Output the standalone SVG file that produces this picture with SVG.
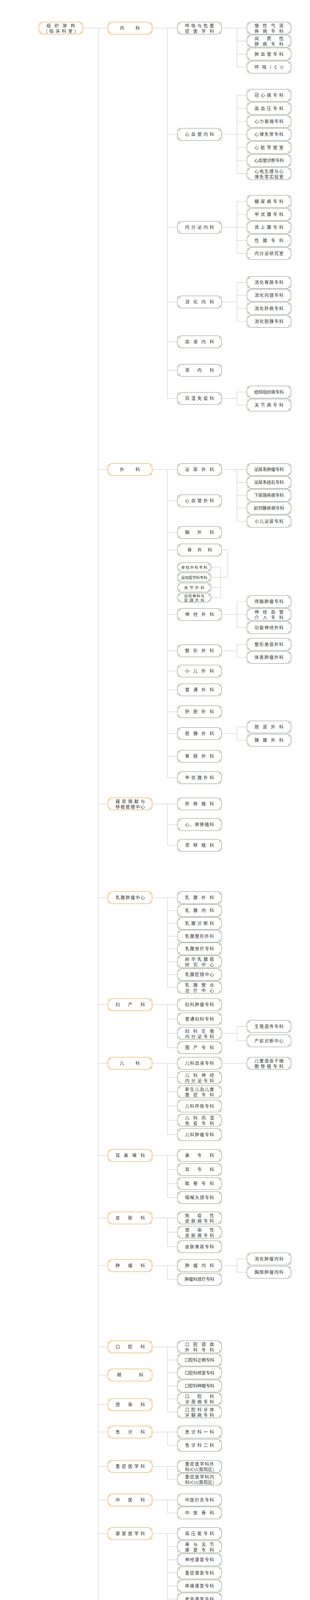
<svg xmlns="http://www.w3.org/2000/svg" width="794" height="6738" viewBox="0 0 794 6738">
<style>
.t{font-family:"Noto Sans CJK SC","Noto Sans CJK JP",sans-serif;font-size:11px;fill:#333}
.ts{font-size:9.5px}
.c{fill:none;stroke:#c6c6c6;stroke-width:1}
.go{stroke:#DFA43A}
.gr{stroke:#869780}
</style>
<defs>
<g id="cn" fill="none"><circle cx="4.2" cy="4.2" r="2.3"/><path d="M4.2,4.2h1.1M0.5,12V7.6H2.8M7.6,0.5V2.8M7.6,0.5H12"/></g>
<g id="fb" stroke-width="1"><rect x="1" y="1" width="112" height="30" fill="#fff" stroke="none"/><path fill="none" d="M12,0.5H102M113.5,12V20M102,31.5H12M0.5,20V12"/><use href="#cn"/><use href="#cn" transform="matrix(-1 0 0 1 114 0)"/><use href="#cn" transform="matrix(1 0 0 -1 0 32)"/><use href="#cn" transform="matrix(-1 0 0 -1 114 32)"/></g>
<g id="fs" stroke-width="1"><rect x="1" y="1" width="85" height="22" fill="#fff" stroke="none"/><path fill="none" d="M12,0.5H75M75,23.5H12"/><use href="#cn"/><use href="#cn" transform="matrix(-1 0 0 1 87 0)"/><use href="#cn" transform="matrix(1 0 0 -1 0 24)"/><use href="#cn" transform="matrix(-1 0 0 -1 87 24)"/></g>
</defs>
<rect width="794" height="6738" fill="#fff"/>
<g id="connectors">
<path class="c" d="M213,72H276M252,72V4843M252,1202H276M252,2058H276M252,2298H276M252,2572H276M252,2722H276M252,2958H276M252,3118H276M252,3240H276M252,3448H276M252,3520H276M252,3596H276M252,3666H276M252,3754H276M252,3840H276M252,3926H276M252,4180H276M252,4610H276M252,4667H276M252,4724H276M252,4782H276M252,4843H276"/>
<path class="c" d="M390,72H454M429,72V1020M429,344H454M429,582H454M429,773H454M429,875H454M429,948H454M429,1020H454"/>
<path class="c" d="M568,72H632M607,72V172M607,105H632M607,138.5H632M607,172H632"/>
<path class="c" d="M568,344H632M607,244V444.5M607,244H632M607,277.5H632M607,311H632M607,377.5H632M607,411H632M607,444.5H632"/>
<path class="c" d="M568,582H632M607,515.5V649M607,515.5H632M607,549H632M607,615.5H632M607,649H632"/>
<path class="c" d="M568,773H607M607,723V823M607,723H632M607,756H632M607,789.5H632M607,823H632"/>
<path class="c" d="M568,1020H607M607,1003.5V1037M607,1003.5H632M607,1037H632"/>
<path class="c" d="M390,1202H454M429,1202V1991M429,1282H454M429,1363H454M429,1408H454M429,1573H454M429,1666H454M429,1718H454M429,1766H454M429,1822H454M429,1878H454M429,1936H454M429,1991H454"/>
<path class="c" d="M568,1202H632M607,1202V1334.5M607,1235H632M607,1268H632M607,1301H632M607,1334.5H632"/>
<path class="c" d="M568,1408H583V1478H541M565,1452V1530M541,1452H565M541,1504H565M541,1530H565"/>
<path class="c" d="M568,1573H632M607,1540V1606.5M607,1540H632M607,1606.5H632"/>
<path class="c" d="M568,1666H607M607,1649.5V1683M607,1649.5H632M607,1683H632"/>
<path class="c" d="M568,1878H607M607,1861V1895M607,1861H632M607,1895H632"/>
<path class="c" d="M390,2058H454M429,2058V2164M429,2111H454M429,2164H454"/>
<path class="c" d="M390,2298H454M429,2298V2527.5M429,2331H454M429,2364H454M429,2396.5H454M429,2429H454M429,2462H454M429,2495H454M429,2527.5H454"/>
<path class="c" d="M390,2572H454M429,2572V2682M429,2608.5H454M429,2645.5H454M429,2682H454"/>
<path class="c" d="M568,2645.5H607M607,2627.5V2664.5M607,2627.5H632M607,2664.5H632"/>
<path class="c" d="M390,2722H454M429,2722V2904.5M429,2758.5H454M429,2795H454M429,2831.5H454M429,2868H454M429,2904.5H454M568,2722H632"/>
<path class="c" d="M390,2958H454M429,2958V3066M429,2994H454M429,3030H454M429,3066H454"/>
<path class="c" d="M390,3118H454M429,3118V3191.5M429,3154.5H454M429,3191.5H454"/>
<path class="c" d="M390,3240H454M429,3240V3275M429,3275H454M568,3240H607M607,3223V3257M607,3223H632M607,3257H632"/>
<path class="c" d="M390,3448H454M429,3448V3614.5M429,3481.5H454M429,3514.5H454M429,3548H454M429,3581H454M429,3614.5H454"/>
<path class="c" d="M390,3666H454M429,3666V3700M429,3700H454M390,3754H454M429,3754V3787M429,3787H454M390,3840H454M429,3840V3873M429,3873H454"/>
<path class="c" d="M390,3926H454M429,3926V4127M429,3959.5H454M429,3993H454M429,4026.5H454M429,4060H454M429,4093.5H454M429,4127H454"/>
<path class="c" d="M390,4180H454M429,4180V4284.5M429,4214H454M429,4247.5H454M429,4284.5H454"/>
<path class="c" d="M390,4610H454M429,4610V4844M429,4643.5H454M429,4676.5H454M429,4710H454M429,4743.5H454M429,4777H454M429,4810.5H454M429,4844H454"/>
<path class="c" d="M213,5687H276M252,5687V6387M252,5765H276M252,5842.5H276M252,5920.5H276M252,5998H276M252,6076H276M252,6154H276M252,6231.5H276M252,6309.5H276M252,6387H276"/>
<path class="c" d="M390,5687H454M429,5687V5722M429,5722H454M390,5998H454M429,5998V6032.5M429,6032.5H454M390,6231.5H454M429,6198V6265M429,6198H454M429,6265H454M390,6387H454"/>
</g>
<g id="nodes-clinical">
<g id="root1"><use href="#fb" class="go" x="99" y="56"/><text class="t" x="119" y="70" textLength="73">组织架构</text><text class="t" x="117.5" y="84" textLength="77">(临床科室)</text></g>
<g id="n-neike"><use href="#fb" class="go" x="276" y="56"/><text class="t" x="307" y="76" textLength="51">内科</text></g>
<g id="n-waike"><use href="#fb" class="go" x="276" y="1186"/><text class="t" x="307" y="1206" textLength="51">外科</text></g>
<g id="n-qiguan"><use href="#fb" class="go" x="276" y="2042"/><text class="t" x="296" y="2056" textLength="75">器官捐献与</text><text class="t" x="296" y="2070" textLength="75">移植管理中心</text></g>
<g id="n-ruxian"><use href="#fb" class="go" x="276" y="2282"/><text class="t" x="296" y="2302" textLength="75">乳腺肿瘤中心</text></g>
<g id="n-fuchan"><use href="#fb" class="go" x="276" y="2556"/><text class="t" x="296" y="2576" textLength="75">妇产科</text></g>
<g id="n-erke"><use href="#fb" class="go" x="276" y="2706"/><text class="t" x="307" y="2726" textLength="51">儿科</text></g>
<g id="n-ebh"><use href="#fb" class="go" x="276" y="2942"/><text class="t" x="296" y="2962" textLength="75">耳鼻喉科</text></g>
<g id="n-pifu"><use href="#fb" class="go" x="276" y="3102"/><text class="t" x="296" y="3122" textLength="75">皮肤科</text></g>
<g id="n-zhongliu"><use href="#fb" class="go" x="276" y="3224"/><text class="t" x="296" y="3244" textLength="75">肿瘤科</text></g>
<g id="n-kouqiang"><use href="#fb" class="go" x="276" y="3432"/><text class="t" x="296" y="3452" textLength="75">口腔科</text></g>
<g id="n-yanke"><use href="#fb" class="go" x="276" y="3504"/><text class="t" x="300" y="3524" textLength="67">眼科</text></g>
<g id="n-ganran"><use href="#fb" class="go" x="276" y="3580"/><text class="t" x="296" y="3600" textLength="75">感染科</text></g>
<g id="n-jizhen"><use href="#fb" class="go" x="276" y="3650"/><text class="t" x="296" y="3670" textLength="75">急诊科</text></g>
<g id="n-zhongzheng"><use href="#fb" class="go" x="276" y="3738"/><text class="t" x="296" y="3758" textLength="75">重症医学科</text></g>
<g id="n-zhongyi"><use href="#fb" class="go" x="276" y="3824"/><text class="t" x="296" y="3844" textLength="75">中医科</text></g>
<g id="n-kangfu"><use href="#fb" class="go" x="276" y="3910"/><text class="t" x="296" y="3930" textLength="75">康复医学科</text></g>
<g id="n-shenjing"><use href="#fb" class="go" x="276" y="4164"/><text class="t" x="296" y="4184" textLength="75">神经科</text></g>
<g id="n-mazui"><use href="#fb" class="go" x="276" y="4594"/><text class="t" x="296" y="4614" textLength="75">麻醉科</text></g>
<g id="n-quanke1"><use href="#fb" class="go" x="276" y="4651"/><text class="t" x="294" y="4671" textLength="78">全科医学科一科</text></g>
<g id="n-quanke2"><use href="#fb" class="go" x="276" y="4708"/><text class="t" x="294" y="4728" textLength="78">全科医学科二科</text></g>
<g id="n-quanke3"><use href="#fb" class="go" x="276" y="4766"/><text class="t" x="294" y="4786" textLength="78">全科医学科三科</text></g>
<g id="n-jiankang"><use href="#fb" class="go" x="276" y="4827"/><text class="t" x="287" y="4847" textLength="95">健康管理中心</text></g>

<g id="a1"><use href="#fb" class="gr" x="454" y="56"/><text class="t" x="474" y="70" textLength="74">呼吸与危重</text><text class="t" x="474" y="84" textLength="74">症医学科</text></g>
<g id="a2"><use href="#fb" class="gr" x="454" y="328"/><text class="t" x="474" y="348" textLength="74">心血管内科</text></g>
<g id="a3"><use href="#fb" class="gr" x="454" y="566"/><text class="t" x="474" y="586" textLength="74">内分泌内科</text></g>
<g id="a4"><use href="#fb" class="gr" x="454" y="757"/><text class="t" x="474" y="777" textLength="74">消化内科</text></g>
<g id="a5"><use href="#fb" class="gr" x="454" y="859"/><text class="t" x="474" y="879" textLength="74">血液内科</text></g>
<g id="a6"><use href="#fb" class="gr" x="454" y="932"/><text class="t" x="474" y="952" textLength="74">肾内科</text></g>
<g id="a7"><use href="#fb" class="gr" x="454" y="1004"/><text class="t" x="474" y="1024" textLength="74">风湿免疫科</text></g>

<g id="a1-1"><use href="#fb" class="gr" x="632" y="56"/><text class="t" x="652" y="70" textLength="74">慢性气道</text><text class="t" x="652" y="84" textLength="74">疾病专科</text></g>
<g id="a1-2"><use href="#fb" class="gr" x="632" y="89"/><text class="t" x="652" y="103" textLength="74">间质性</text><text class="t" x="652" y="117" textLength="74">肺病专科</text></g>
<g id="a1-3"><use href="#fb" class="gr" x="632" y="122.5"/><text class="t" x="652" y="142.5" textLength="74">肺血管专科</text></g>
<g id="a1-4"><use href="#fb" class="gr" x="632" y="156"/><text class="t" x="652" y="176" textLength="74">呼吸ICU</text></g>
<g id="a2-1"><use href="#fb" class="gr" x="632" y="228"/><text class="t" x="652" y="248" textLength="74">冠心病专科</text></g>
<g id="a2-2"><use href="#fb" class="gr" x="632" y="261.5"/><text class="t" x="652" y="281.5" textLength="74">高血压专科</text></g>
<g id="a2-3"><use href="#fb" class="gr" x="632" y="295"/><text class="t" x="652" y="315" textLength="74">心力衰竭专科</text></g>
<g id="a2-4"><use href="#fb" class="gr" x="632" y="328"/><text class="t" x="652" y="348" textLength="74">心律失常专科</text></g>
<g id="a2-5"><use href="#fb" class="gr" x="632" y="361.5"/><text class="t" x="652" y="381.5" textLength="74">心脏导管室</text></g>
<g id="a2-6"><use href="#fb" class="gr" x="632" y="395"/><text class="t" x="651" y="415" textLength="76">心血管诊断专科</text></g>
<g id="a2-7"><use href="#fb" class="gr" x="632" y="428.5"/><text class="t" x="652" y="442.5" textLength="74">心电生理与心</text><text class="t" x="652" y="456.5" textLength="74">律失常实验室</text></g>
<g id="a3-1"><use href="#fb" class="gr" x="632" y="499.5"/><text class="t" x="652" y="519.5" textLength="74">糖尿病专科</text></g>
<g id="a3-2"><use href="#fb" class="gr" x="632" y="533"/><text class="t" x="652" y="553" textLength="74">甲状腺专科</text></g>
<g id="a3-3"><use href="#fb" class="gr" x="632" y="566"/><text class="t" x="652" y="586" textLength="74">肾上腺专科</text></g>
<g id="a3-4"><use href="#fb" class="gr" x="632" y="599.5"/><text class="t" x="652" y="619.5" textLength="74">性腺专科</text></g>
<g id="a3-5"><use href="#fb" class="gr" x="632" y="633"/><text class="t" x="652" y="653" textLength="74">内分泌研究室</text></g>
<g id="a4-1"><use href="#fb" class="gr" x="632" y="707"/><text class="t" x="652" y="727" textLength="74">消化胃肠专科</text></g>
<g id="a4-2"><use href="#fb" class="gr" x="632" y="740"/><text class="t" x="652" y="760" textLength="74">消化内镜专科</text></g>
<g id="a4-3"><use href="#fb" class="gr" x="632" y="773.5"/><text class="t" x="652" y="793.5" textLength="74">消化肝病专科</text></g>
<g id="a4-4"><use href="#fb" class="gr" x="632" y="807"/><text class="t" x="652" y="827" textLength="74">消化胆胰专科</text></g>
<g id="a7-1"><use href="#fb" class="gr" x="632" y="987.5"/><text class="t" x="651" y="1007.5" textLength="76">结缔组织病专科</text></g>
<g id="a7-2"><use href="#fb" class="gr" x="632" y="1021"/><text class="t" x="652" y="1041" textLength="74">关节病专科</text></g>

<g id="b1"><use href="#fb" class="gr" x="454" y="1186"/><text class="t" x="474" y="1206" textLength="74">泌尿外科</text></g>
<g id="b2"><use href="#fb" class="gr" x="454" y="1266"/><text class="t" x="474" y="1286" textLength="74">心血管外科</text></g>
<g id="b3"><use href="#fb" class="gr" x="454" y="1347"/><text class="t" x="474" y="1367" textLength="74">胸外科</text></g>
<g id="b4"><use href="#fb" class="gr" x="454" y="1392"/><text class="t" x="480" y="1412" textLength="63">骨外科</text></g>
<g id="b4-1"><use href="#fs" class="gr" x="454" y="1440"/><text class="t ts" x="464" y="1455.6" textLength="67">脊柱外科专科</text></g>
<g id="b4-2"><use href="#fs" class="gr" x="454" y="1466"/><text class="t ts" x="464" y="1481.6" textLength="67">运动医学科专科</text></g>
<g id="b4-3"><use href="#fs" class="gr" x="454" y="1492"/><text class="t ts" x="471.5" y="1507.6" textLength="52">关节外科</text></g>
<g id="b4-4"><use href="#fs" class="gr" x="454" y="1518"/><text class="t ts" x="471.5" y="1529.1" textLength="52">创伤骨科与</text><text class="t ts" x="471.5" y="1539.8" textLength="52">足踝外科</text></g>
<g id="b5"><use href="#fb" class="gr" x="454" y="1557"/><text class="t" x="474" y="1577" textLength="74">神经外科</text></g>
<g id="b6"><use href="#fb" class="gr" x="454" y="1650"/><text class="t" x="474" y="1670" textLength="74">整形外科</text></g>
<g id="b7"><use href="#fb" class="gr" x="454" y="1702"/><text class="t" x="474" y="1722" textLength="74">小儿外科</text></g>
<g id="b8"><use href="#fb" class="gr" x="454" y="1750"/><text class="t" x="474" y="1770" textLength="74">普通外科</text></g>
<g id="b9"><use href="#fb" class="gr" x="454" y="1806"/><text class="t" x="474" y="1826" textLength="74">肝胆外科</text></g>
<g id="b10"><use href="#fb" class="gr" x="454" y="1862"/><text class="t" x="474" y="1882" textLength="74">胆胰外科</text></g>
<g id="b11"><use href="#fb" class="gr" x="454" y="1920"/><text class="t" x="474" y="1940" textLength="74">胃肠外科</text></g>
<g id="b12"><use href="#fb" class="gr" x="454" y="1975"/><text class="t" x="474" y="1995" textLength="74">甲状腺外科</text></g>
<g id="b1-1"><use href="#fb" class="gr" x="632" y="1186"/><text class="t" x="651" y="1206" textLength="76">泌尿系肿瘤专科</text></g>
<g id="b1-2"><use href="#fb" class="gr" x="632" y="1219"/><text class="t" x="651" y="1239" textLength="76">泌尿系结石专科</text></g>
<g id="b1-3"><use href="#fb" class="gr" x="632" y="1252"/><text class="t" x="651" y="1272" textLength="76">下尿路疾病专科</text></g>
<g id="b1-4"><use href="#fb" class="gr" x="632" y="1285"/><text class="t" x="650" y="1305" textLength="78">前列腺疾病专科</text></g>
<g id="b1-5"><use href="#fb" class="gr" x="632" y="1318.5"/><text class="t" x="652" y="1338.5" textLength="74">小儿泌尿专科</text></g>
<g id="b5-1"><use href="#fb" class="gr" x="632" y="1524"/><text class="t" x="652" y="1544" textLength="74">颅脑肿瘤专科</text></g>
<g id="b5-2"><use href="#fb" class="gr" x="632" y="1557"/><text class="t" x="652" y="1571" textLength="74">神经血管</text><text class="t" x="652" y="1585" textLength="74">介入专科</text></g>
<g id="b5-3"><use href="#fb" class="gr" x="632" y="1590.5"/><text class="t" x="652" y="1610.5" textLength="74">功能神经外科</text></g>
<g id="b6-1"><use href="#fb" class="gr" x="632" y="1633.5"/><text class="t" x="652" y="1653.5" textLength="74">整形美容外科</text></g>
<g id="b6-2"><use href="#fb" class="gr" x="632" y="1667"/><text class="t" x="652" y="1687" textLength="74">体表肿瘤外科</text></g>
<g id="b10-1"><use href="#fb" class="gr" x="632" y="1845"/><text class="t" x="652" y="1865" textLength="74">胆道外科</text></g>
<g id="b10-2"><use href="#fb" class="gr" x="632" y="1879"/><text class="t" x="652" y="1899" textLength="74">胰腺外科</text></g>

<g id="c1"><use href="#fb" class="gr" x="454" y="2042"/><text class="t" x="474" y="2062" textLength="74">肝移植科</text></g>
<g id="c2"><use href="#fb" class="gr" x="454" y="2095"/><text class="t" x="474" y="2115" textLength="74">心、肺移植科</text></g>
<g id="c3"><use href="#fb" class="gr" x="454" y="2148"/><text class="t" x="474" y="2168" textLength="74">肾移植科</text></g>

<g id="d1"><use href="#fb" class="gr" x="454" y="2282"/><text class="t" x="474" y="2302" textLength="74">乳腺外科</text></g>
<g id="d2"><use href="#fb" class="gr" x="454" y="2315"/><text class="t" x="474" y="2335" textLength="74">乳腺内科</text></g>
<g id="d3"><use href="#fb" class="gr" x="454" y="2348"/><text class="t" x="474" y="2368" textLength="74">乳腺诊断科</text></g>
<g id="d4"><use href="#fb" class="gr" x="454" y="2380.5"/><text class="t" x="474" y="2400.5" textLength="74">乳腺整形外科</text></g>
<g id="d5"><use href="#fb" class="gr" x="454" y="2413"/><text class="t" x="474" y="2433" textLength="74">乳腺放疗专科</text></g>
<g id="d6"><use href="#fb" class="gr" x="454" y="2446"/><text class="t" x="474" y="2460" textLength="74">树华乳腺癌</text><text class="t" x="474" y="2474" textLength="74">研究中心</text></g>
<g id="d7"><use href="#fb" class="gr" x="454" y="2479"/><text class="t" x="474" y="2499" textLength="74">乳腺腔镜中心</text></g>
<g id="d8"><use href="#fb" class="gr" x="454" y="2511.5"/><text class="t" x="474" y="2525.5" textLength="74">乳腺整合</text><text class="t" x="474" y="2539.5" textLength="74">治疗中心</text></g>

<g id="e1"><use href="#fb" class="gr" x="454" y="2556"/><text class="t" x="474" y="2576" textLength="74">妇科肿瘤专科</text></g>
<g id="e2"><use href="#fb" class="gr" x="454" y="2592.5"/><text class="t" x="474" y="2612.5" textLength="74">普通妇科专科</text></g>
<g id="e3"><use href="#fb" class="gr" x="454" y="2629.5"/><text class="t" x="474" y="2643.5" textLength="74">妇科生殖</text><text class="t" x="474" y="2657.5" textLength="74">内分泌专科</text></g>
<g id="e4"><use href="#fb" class="gr" x="454" y="2666"/><text class="t" x="474" y="2686" textLength="74">围产专科</text></g>
<g id="e3-1"><use href="#fb" class="gr" x="632" y="2611.5"/><text class="t" x="652" y="2631.5" textLength="74">生殖遗传专科</text></g>
<g id="e3-2"><use href="#fb" class="gr" x="632" y="2648.5"/><text class="t" x="652" y="2668.5" textLength="74">产前诊断中心</text></g>

<g id="f1"><use href="#fb" class="gr" x="454" y="2706"/><text class="t" x="474" y="2726" textLength="74">儿科血液专科</text></g>
<g id="f2"><use href="#fb" class="gr" x="454" y="2742.5"/><text class="t" x="474" y="2756.5" textLength="74">儿科神经</text><text class="t" x="474" y="2770.5" textLength="74">内分泌专科</text></g>
<g id="f3"><use href="#fb" class="gr" x="454" y="2779"/><text class="t" x="474" y="2793" textLength="74">新生儿及儿童</text><text class="t" x="474" y="2807" textLength="74">重症专科</text></g>
<g id="f4"><use href="#fb" class="gr" x="454" y="2815.5"/><text class="t" x="474" y="2835.5" textLength="74">儿科呼吸专科</text></g>
<g id="f5"><use href="#fb" class="gr" x="454" y="2852"/><text class="t" x="474" y="2866" textLength="74">儿科风湿</text><text class="t" x="474" y="2880" textLength="74">免疫专科</text></g>
<g id="f6"><use href="#fb" class="gr" x="454" y="2888.5"/><text class="t" x="474" y="2908.5" textLength="74">儿科肿瘤专科</text></g>
<g id="f1-1"><use href="#fb" class="gr" x="632" y="2706"/><text class="t" x="652" y="2720" textLength="74">儿童造血干细</text><text class="t" x="652" y="2734" textLength="74">胞移植专科</text></g>

<g id="g1"><use href="#fb" class="gr" x="454" y="2942"/><text class="t" x="474" y="2962" textLength="74">鼻专科</text></g>
<g id="g2"><use href="#fb" class="gr" x="454" y="2978"/><text class="t" x="474" y="2998" textLength="74">耳专科</text></g>
<g id="g3"><use href="#fb" class="gr" x="454" y="3014"/><text class="t" x="474" y="3034" textLength="74">眩晕专科</text></g>
<g id="g4"><use href="#fb" class="gr" x="454" y="3050"/><text class="t" x="474" y="3070" textLength="74">咽喉头颈专科</text></g>

<g id="h1"><use href="#fb" class="gr" x="454" y="3102"/><text class="t" x="474" y="3116" textLength="74">免疫性</text><text class="t" x="474" y="3130" textLength="74">皮肤病专科</text></g>
<g id="h2"><use href="#fb" class="gr" x="454" y="3138.5"/><text class="t" x="474" y="3152.5" textLength="74">感染性</text><text class="t" x="474" y="3166.5" textLength="74">皮肤病专科</text></g>
<g id="h3"><use href="#fb" class="gr" x="454" y="3175.5"/><text class="t" x="474" y="3195.5" textLength="74">皮肤美容专科</text></g>

<g id="i1"><use href="#fb" class="gr" x="454" y="3224"/><text class="t" x="474" y="3244" textLength="74">肿瘤内科</text></g>
<g id="i2"><use href="#fb" class="gr" x="454" y="3259"/><text class="t" x="473" y="3279" textLength="76">肿瘤科放疗专科</text></g>
<g id="i1-1"><use href="#fb" class="gr" x="632" y="3207"/><text class="t" x="652" y="3227" textLength="74">消化肿瘤内科</text></g>
<g id="i1-2"><use href="#fb" class="gr" x="632" y="3241"/><text class="t" x="652" y="3261" textLength="74">胸部肿瘤内科</text></g>

<g id="j1"><use href="#fb" class="gr" x="454" y="3432"/><text class="t" x="474" y="3446" textLength="74">口腔颌面</text><text class="t" x="474" y="3460" textLength="74">外科专科</text></g>
<g id="j2"><use href="#fb" class="gr" x="454" y="3465.5"/><text class="t" x="473" y="3485.5" textLength="76">口腔科正畸专科</text></g>
<g id="j3"><use href="#fb" class="gr" x="454" y="3498.5"/><text class="t" x="473" y="3518.5" textLength="76">口腔科修复专科</text></g>
<g id="j4"><use href="#fb" class="gr" x="454" y="3532"/><text class="t" x="473" y="3552" textLength="76">口腔科种植专科</text></g>
<g id="j5"><use href="#fb" class="gr" x="454" y="3565"/><text class="t" x="474" y="3579" textLength="74">口腔科</text><text class="t" x="474" y="3593" textLength="74">牙周病专科</text></g>
<g id="j6"><use href="#fb" class="gr" x="454" y="3598.5"/><text class="t" x="474" y="3612.5" textLength="74">口腔科牙体</text><text class="t" x="474" y="3626.5" textLength="74">牙髓病专科</text></g>

<g id="m1"><use href="#fb" class="gr" x="454" y="3650"/><text class="t" x="474" y="3670" textLength="74">急诊科一科</text></g>
<g id="m2"><use href="#fb" class="gr" x="454" y="3684"/><text class="t" x="474" y="3704" textLength="74">急诊科二科</text></g>
<g id="n1"><use href="#fb" class="gr" x="454" y="3738"/><text class="t" x="474" y="3752" textLength="74">重症医学科外</text><text class="t" x="474" y="3766" textLength="74">科ICU(南院区)</text></g>
<g id="n2"><use href="#fb" class="gr" x="454" y="3771"/><text class="t" x="474" y="3785" textLength="74">重症医学科内</text><text class="t" x="474" y="3799" textLength="74">科ICU(南院区)</text></g>
<g id="o1"><use href="#fb" class="gr" x="454" y="3824"/><text class="t" x="474" y="3844" textLength="74">中医针灸专科</text></g>
<g id="o2"><use href="#fb" class="gr" x="454" y="3857"/><text class="t" x="474" y="3877" textLength="74">中医骨科</text></g>

<g id="p1"><use href="#fb" class="gr" x="454" y="3910"/><text class="t" x="474" y="3930" textLength="74">高压氧专科</text></g>
<g id="p2"><use href="#fb" class="gr" x="454" y="3943.5"/><text class="t" x="474" y="3957.5" textLength="74">骨与关节</text><text class="t" x="474" y="3971.5" textLength="74">康复专科</text></g>
<g id="p3"><use href="#fb" class="gr" x="454" y="3977"/><text class="t" x="474" y="3997" textLength="74">神经康复专科</text></g>
<g id="p4"><use href="#fb" class="gr" x="454" y="4010.5"/><text class="t" x="474" y="4030.5" textLength="74">重症康复专科</text></g>
<g id="p5"><use href="#fb" class="gr" x="454" y="4044"/><text class="t" x="474" y="4064" textLength="74">疼痛康复专科</text></g>
<g id="p6"><use href="#fb" class="gr" x="454" y="4077.5"/><text class="t" x="474" y="4097.5" textLength="74">老年康复专科</text></g>
<g id="p7"><use href="#fb" class="gr" x="454" y="4111"/><text class="t" x="474" y="4131" textLength="74">心肺康复专科</text></g>

<g id="q1"><use href="#fb" class="gr" x="454" y="4164"/><text class="t" x="474" y="4184" textLength="74">脑血管病专科</text></g>
<g id="q2"><use href="#fb" class="gr" x="454" y="4198"/><text class="t" x="474" y="4212" textLength="74">老年神经</text><text class="t" x="474" y="4226" textLength="74">变性专科</text></g>
<g id="q3"><use href="#fb" class="gr" x="454" y="4231.5"/><text class="t" x="474" y="4251.5" textLength="74">神经介入专科</text></g>
<g id="q4"><use href="#fb" class="gr" x="454" y="4268.5"/><text class="t" x="474" y="4288.5" textLength="74">神经功能专科</text></g>

<g id="r1"><use href="#fb" class="gr" x="454" y="4594"/><text class="t" x="474" y="4614" textLength="74">麻醉科一科</text></g>
<g id="r2"><use href="#fb" class="gr" x="454" y="4627.5"/><text class="t" x="474" y="4647.5" textLength="74">麻醉科二科</text></g>
<g id="r3"><use href="#fb" class="gr" x="454" y="4660.5"/><text class="t" x="474" y="4674.5" textLength="74">心胸外科</text><text class="t" x="474" y="4688.5" textLength="74">麻醉专科</text></g>
<g id="r4"><use href="#fb" class="gr" x="454" y="4694"/><text class="t" x="474" y="4708" textLength="74">颅脑脊柱外科</text><text class="t" x="474" y="4722" textLength="74">麻醉专科</text></g>
<g id="r5"><use href="#fb" class="gr" x="454" y="4727.5"/><text class="t" x="474" y="4741.5" textLength="74">口腔耳鼻喉科</text><text class="t" x="474" y="4755.5" textLength="74">麻醉专科</text></g>
<g id="r6"><use href="#fb" class="gr" x="454" y="4761"/><text class="t" x="474" y="4775" textLength="74">泌尿妇科</text><text class="t" x="474" y="4789" textLength="74">麻醉专科</text></g>
<g id="r7"><use href="#fb" class="gr" x="454" y="4794.5"/><text class="t" x="474" y="4808.5" textLength="74">肝胆外科</text><text class="t" x="474" y="4822.5" textLength="74">麻醉专科</text></g>
<g id="r8"><use href="#fb" class="gr" x="454" y="4828"/><text class="t" x="474" y="4848" textLength="74">麻醉疼痛专科</text></g>
</g>
<g id="nodes-tech">
<g id="root2"><use href="#fb" class="go" x="99" y="5671"/><text class="t" x="119" y="5685" textLength="73">组织架构</text><text class="t" x="117.5" y="5699" textLength="77">(医技科室)</text></g>
<g id="t-fangshe"><use href="#fb" class="go" x="276" y="5671"/><text class="t" x="296" y="5691" textLength="75">放射科</text></g>
<g id="t-jieru"><use href="#fb" class="go" x="276" y="5749"/><text class="t" x="296" y="5769" textLength="75">介入科</text></g>
<g id="t-he"><use href="#fb" class="go" x="276" y="5826.5"/><text class="t" x="296" y="5846.5" textLength="75">核医学科</text></g>
<g id="t-chaosheng"><use href="#fb" class="go" x="276" y="5904.5"/><text class="t" x="296" y="5924.5" textLength="75">超声科</text></g>
<g id="t-bingli"><use href="#fb" class="go" x="276" y="5982"/><text class="t" x="296" y="6002" textLength="75">病理科</text></g>
<g id="t-shuxue"><use href="#fb" class="go" x="276" y="6060"/><text class="t" x="296" y="6080" textLength="75">输血科</text></g>
<g id="t-jianyan"><use href="#fb" class="go" x="276" y="6138"/><text class="t" x="296" y="6158" textLength="75">检验科</text></g>
<g id="t-yaoxue"><use href="#fb" class="go" x="276" y="6215.5"/><text class="t" x="296" y="6235.5" textLength="75">药学部</text></g>
<g id="t-yingyang"><use href="#fb" class="go" x="276" y="6293.5"/><text class="t" x="296" y="6313.5" textLength="75">临床营养科</text></g>
<g id="t-shengwu"><use href="#fb" class="go" x="276" y="6371"/><text class="t" x="296" y="6385" textLength="75">生物治疗</text><text class="t" x="296" y="6399" textLength="75">技术中心</text></g>
<g id="t1"><use href="#fb" class="gr" x="454" y="5671"/><text class="t" x="474" y="5691" textLength="74">影像专科一科</text></g>
<g id="t2"><use href="#fb" class="gr" x="454" y="5706"/><text class="t" x="474" y="5726" textLength="74">影像专科二科</text></g>
<g id="t3"><use href="#fb" class="gr" x="454" y="5982"/><text class="t" x="474" y="6002" textLength="74">乳腺病理专科</text></g>
<g id="t4"><use href="#fb" class="gr" x="454" y="6016.5"/><text class="t" x="474" y="6030.5" textLength="74">细胞分子</text><text class="t" x="474" y="6044.5" textLength="74">诊断中心</text></g>
<g id="t5"><use href="#fb" class="gr" x="454" y="6182"/><text class="t" x="474" y="6196" textLength="74">药学部药品供</text><text class="t" x="474" y="6210" textLength="74">应与调剂科</text></g>
<g id="t6"><use href="#fb" class="gr" x="454" y="6215.5"/><text class="t" x="474" y="6229.5" textLength="74">药学部</text><text class="t" x="474" y="6243.5" textLength="74">临床药学科</text></g>
<g id="t7"><use href="#fb" class="gr" x="454" y="6249"/><text class="t" x="474" y="6269" textLength="74">药学部制剂科</text></g>
<g id="t8"><use href="#fb" class="gr" x="454" y="6371"/><text class="t" x="474" y="6391" textLength="74">生物样本库</text></g>
</g>
</svg>
